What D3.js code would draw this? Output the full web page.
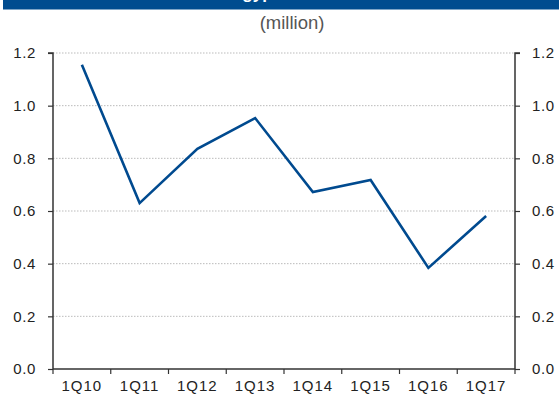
<!DOCTYPE html>
<html>
<head>
<meta charset="utf-8">
<script src="https://cdn.jsdelivr.net/npm/d3@7"></script>
<style>
  body { margin: 0; background: #fff; }
  svg { display: block; }
</style>
</head>
<body>
<svg id="chart" width="559" height="396"></svg>
<script>
// data
const quarters = ["1Q10", "1Q11", "1Q12", "1Q13", "1Q14", "1Q15", "1Q16", "1Q17"];
const values = [1.155, 0.63, 0.836, 0.953, 0.672, 0.718, 0.384, 0.581];
const yTicks = [0, 0.2, 0.4, 0.6, 0.8, 1.0, 1.2];
const unitLabel = "(million)";
const titleText = "Egypt";

var margin = { top: 53, right: 44, bottom: 27, left: 53 };
var widthA = 559, heightA = 396;
const innerWidth = widthA - margin.left - margin.right;
const innerHeight = heightA - margin.top - margin.bottom;
const fontFam = "'Liberation Sans', Arial, Helvetica, sans-serif";
const axisColor = "#333";

var svg = d3.select("#chart");

// title band, only the bottom of the title text shows
svg.append("clipPath").attr("id", "band")
  .append("rect").attr("x", 3).attr("y", 0).attr("width", widthA - 3).attr("height", 9.5);
svg.append("rect")
  .attr("x", 3).attr("y", 0).attr("width", widthA - 3).attr("height", 9.5)
  .attr("fill", "#004C8F");
svg.append("text")
  .attr("clip-path", "url(#band)")
  .attr("x", 231).attr("y", -1)
  .attr("fill", "#fff")
  .style("font-family", fontFam)
  .style("font-weight", 700)
  .style("font-size", "17px")
  .text(titleText);

// unit label
svg.append("text")
  .attr("x", 292).attr("y", 29)
  .attr("text-anchor", "middle")
  .attr("fill", "#555")
  .style("font-family", fontFam)
  .style("font-size", "18.5px")
  .text(unitLabel);

var g = svg.append("g").attr("transform", `translate(${margin.left},${margin.top})`);

var x = d3.scaleBand().domain(quarters).range([0, innerWidth]);
var y = d3.scaleLinear().domain([0, 1.2]).range([innerHeight, 0]);

// gridlines
g.selectAll(".grid").data(yTicks.filter(d => d > 0))
  .enter().append("line")
  .attr("class", "grid")
  .attr("x1", 0).attr("x2", innerWidth)
  .attr("y1", d => y(d)).attr("y2", d => y(d))
  .attr("stroke", "#aaa")
  .attr("stroke-width", 0.8)
  .attr("stroke-dasharray", "1.5,1.5");

// left + right axes
const yAxisL = g.append("g")
  .call(d3.axisLeft(y).tickValues(yTicks).tickFormat(d3.format(".1f")).tickSize(5).tickPadding(12));
const yAxisR = g.append("g")
  .attr("transform", `translate(${innerWidth},0)`)
  .call(d3.axisRight(y).tickValues(yTicks).tickFormat(d3.format(".1f")).tickSize(5).tickPadding(12));

[yAxisL, yAxisR].forEach(ax => {
  ax.select(".domain").attr("stroke", axisColor).attr("stroke-width", 1.5)
    .attr("d", ax === yAxisL ? `M-5,0H0V${innerHeight}` : `M5,0H0V${innerHeight}`);
  ax.selectAll(".tick line").attr("stroke", axisColor).attr("stroke-width", 1.2);
  ax.selectAll("text").attr("fill", "#222")
    .style("font-family", fontFam).style("font-size", "15px")
    .style("letter-spacing", "0.6px");
});

// x axis: ticks at band boundaries, labels centered
const xAxisG = g.append("g").attr("transform", `translate(0,${innerHeight})`);
xAxisG.append("line")
  .attr("x1", 0).attr("x2", innerWidth)
  .attr("stroke", axisColor).attr("stroke-width", 1.5);
const bounds = quarters.map(q => x(q)).concat([innerWidth]);
xAxisG.selectAll(".xt").data(bounds).enter().append("line")
  .attr("class", "xt")
  .attr("x1", d => d).attr("x2", d => d)
  .attr("y1", 0).attr("y2", 5)
  .attr("stroke", axisColor).attr("stroke-width", 1.2);
xAxisG.selectAll(".xl").data(quarters).enter().append("text")
  .attr("class", "xl")
  .attr("x", d => x(d) + x.bandwidth() / 2)
  .attr("y", 22)
  .attr("text-anchor", "middle")
  .attr("fill", "#222")
  .style("font-family", fontFam)
  .style("font-size", "15px")
  .style("letter-spacing", "1px")
  .text(d => d);

// line
const line = d3.line()
  .x((d, i) => x(quarters[i]) + x.bandwidth() / 2)
  .y(d => y(d));
g.append("path")
  .datum(values)
  .attr("d", line)
  .attr("fill", "none")
  .attr("stroke", "#004A8F")
  .attr("stroke-width", 2.6)
  .attr("stroke-linejoin", "miter");
</script>
</body>
</html>
